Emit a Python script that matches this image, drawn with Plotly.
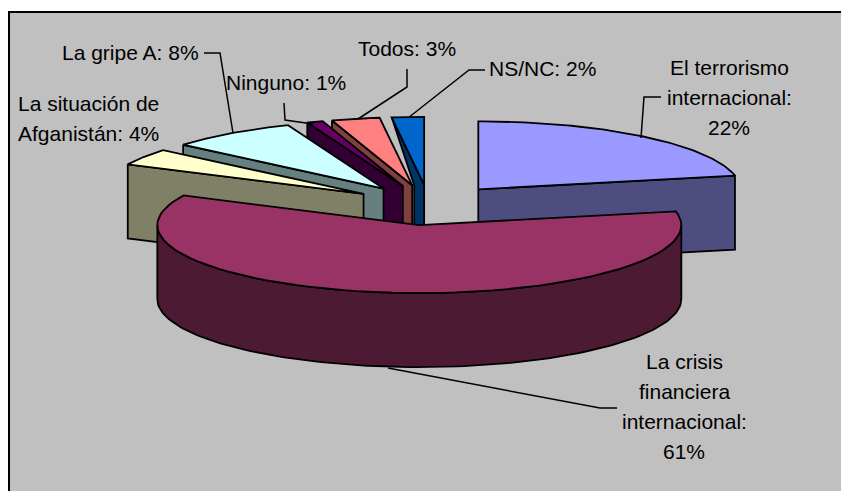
import numpy as np
import plotly.graph_objects as go

# ---- data ----
categories = ["El terrorismo internacional", "La crisis financiera internacional",
              "La situación de Afganistán", "La gripe A", "Ninguno", "Todos", "NS/NC"]
values = [22, 61, 4, 8, 1, 3, 2]
top_colors = ["#9999FF", "#993366", "#FFFFCC", "#CCFFFF", "#660066", "#FF8080", "#0066CC"]
side_colors = ["#4D4D80", "#4D1A33", "#808066", "#668080", "#330033", "#804040", "#003366"]
label_lines = [
    (["El terrorismo", "internacional:", "22%"], 729, 67),
    (["La crisis", "financiera", "internacional:", "61%"], 684, 361),
    (["La situación de", "Afganistán: 4%"], 88, 103),
    (["La gripe A: 8%"], 130, 52),
    (["Ninguno: 1%"], 286, 82),
    (["Todos: 3%"], 407, 48),
    (["NS/NC: 2%"], 542, 68),
]
leaders = [
    ([661, 644, 641], [97, 97, 138]),
    ([617, 600, 388], [408, 408, 368]),
    ([204, 220, 233], [53, 53, 133]),
    ([284, 285, 313], [103, 120, 124]),
    ([407, 407, 358], [69, 87, 119]),
    ([485, 469, 408], [70, 70, 118]),
]

# ---- pie projection ----
CX, CY, RX, RY, DEPTH, EXPLODE = 429, 205, 262, 68, 74, 78
LINE = dict(color="#000000", width=1.8)

total = sum(values)
ends = np.cumsum(values) / total * 2 * np.pi
starts = np.concatenate([[0], ends[:-1]])


def apex_of(i):
    mid = (starts[i] + ends[i]) / 2
    return CX + EXPLODE * np.sin(mid), CY - EXPLODE * RY / RX * np.cos(mid)


def rim(ax, ay, a):
    return ax + RX * np.sin(a), ay - RY * np.cos(a)


fig = go.Figure()


def poly(xs, ys, color, name):
    fig.add_trace(go.Scatter(x=list(xs), y=list(ys), mode="lines", fill="toself",
                             fillcolor=color, line=LINE, name=name,
                             hoverinfo="name", showlegend=False))


def draw_slice(i):
    ax, ay = apex_of(i)
    a0, a1 = starts[i], ends[i]
    x0, y0 = rim(ax, ay, a0)
    x1, y1 = rim(ax, ay, a1)
    name = categories[i]
    if i == 0:
        # front-facing radial wall at the end angle
        poly([ax, x1, x1, ax, ax], [ay, y1, y1 + DEPTH, ay + DEPTH, ay], side_colors[i], name)
    elif i == 1:
        # outer curved wall between 90 and 270 degrees
        t = np.linspace(np.pi / 2, 3 * np.pi / 2, 120)
        xr, yr = rim(ax, ay, t)
        poly(np.r_[xr, xr[::-1], xr[0]], np.r_[yr, yr[::-1] + DEPTH, yr[0]], side_colors[i], name)
    elif i == len(values) - 1:
        # narrow wedge: the wall tucks in behind its neighbour's apex
        px, py = apex_of(i - 1)
        poly([x0, ax, ax, px + 2, px + 2, x0],
             [y0, ay, ay + DEPTH, py + DEPTH, py, y0], side_colors[i], name)
    else:
        # wall at the start angle faces the viewer
        poly([x0, ax, ax, x0, x0], [y0, ay, ay + DEPTH, y0 + DEPTH, y0], side_colors[i], name)
    t = np.linspace(a0, a1, 80)
    xr, yr = rim(ax, ay, t)
    poly(np.r_[ax, xr, ax], np.r_[ay, yr, ay], top_colors[i], name)


# painter's order: back wedges first, big front slice last
for idx in [6, 5, 4, 3, 2, 0, 1]:
    draw_slice(idx)

for lx, ly in leaders:
    fig.add_trace(go.Scatter(x=lx, y=ly, mode="lines", line=dict(color="#000000", width=1.5),
                             hoverinfo="skip", showlegend=False))

annotations = []
for lines, cx, cy in label_lines:
    for k, text in enumerate(lines):
        annotations.append(dict(x=cx, y=cy + 30 * k, text=text, xref="x", yref="y",
                                showarrow=False, xanchor="center", yanchor="middle",
                                font=dict(family="Liberation Sans, Arial, sans-serif",
                                          size=21, color="#000000")))

fig.update_layout(
    width=841, height=491, margin=dict(l=0, r=0, t=0, b=0),
    paper_bgcolor="#FFFFFF", plot_bgcolor="#FFFFFF", showlegend=False,
    xaxis=dict(range=[0, 841], visible=False, fixedrange=True),
    yaxis=dict(range=[491, 0], visible=False, fixedrange=True),
    annotations=annotations,
    shapes=[dict(type="rect", xref="x", yref="y", x0=9, y0=12, x1=860, y1=510,
                 fillcolor="#C0C0C0", line=dict(color="#000000", width=2), layer="below")],
)
fig.write_html("out.html", config={"displayModeBar": False},
               post_script="document.body.style.margin='0';"
                           "document.documentElement.style.overflow='hidden';")
